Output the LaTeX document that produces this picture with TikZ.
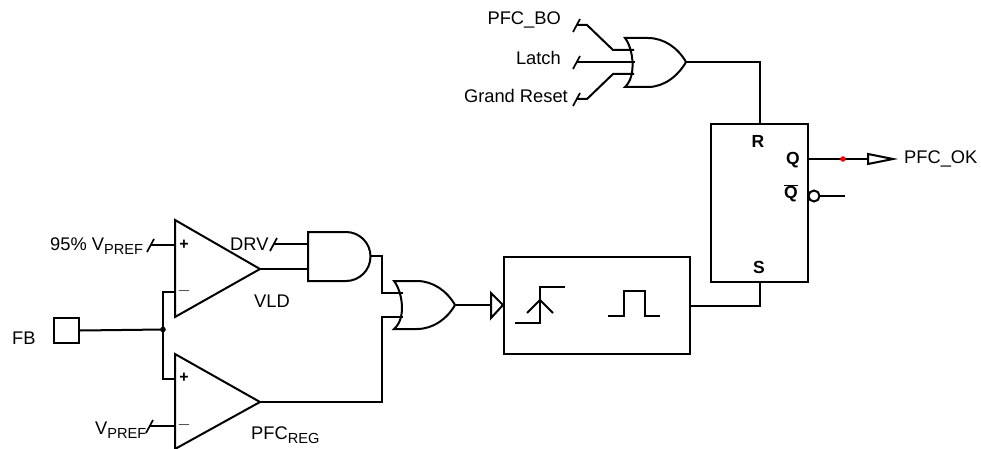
\documentclass[tikz,border=0pt]{standalone}
\usepackage{fontspec}
\setmainfont{Liberation Sans}
\usepackage{tikz}
\usetikzlibrary{
  positioning,
  calc
}
\newcommand{\lowtext}[1]{\raisebox{-0.26em}{\fontsize{14.6}{16}\selectfont #1}}
\tikzset{
  wire/.style={line width=2pt,line join=miter},
  gate/.style={wire,fill=white},
  tick/.style={line width=1.7pt},
  sig/.style={inner sep=0pt,font=\fontsize{18.3}{21}\selectfont},
  pin/.style={inner sep=0pt,font=\fontsize{17.5}{19}\selectfont\bfseries},
  sign/.style={inner sep=0pt,font=\fontsize{16}{18}\selectfont\bfseries},
  block/.style={draw,line width=2pt,rectangle,inner sep=0pt,anchor=north west}
}

\begin{document}
\begin{tikzpicture}[x=1pt,y=-1pt]
    \useasboundingbox (0,0) rectangle (981,449);

    % Blocks
    \node[block,minimum width=97pt,minimum height=158pt] (latch) at (710,123) {};
    \node[block,minimum width=186pt,minimum height=97pt] (oneshot) at (503,256) {};
    \node[block,minimum width=25pt,minimum height=25pt] (fb) at (53,317) {};

    % Gates
    \draw[gate] (625,38) .. controls (633,48) and (637,76) .. (625,87) -- (648,87) .. controls (664,87) and (678,76) .. (686,62) .. controls (678,48) and (664,38) .. (648,38) -- cycle;
    \draw[gate] (394,281) .. controls (402,291) and (407,318) .. (394,329) -- (417,329) .. controls (433,329) and (447,319) .. (455,305) .. controls (447,291) and (433,281) .. (417,281) -- cycle;
    \draw[gate] (308,232) -- (346,232) arc[start angle=90,end angle=-90,radius=24.5pt] -- (308,281) -- cycle;
    \draw[gate] (175,220) -- (260,269) -- (175,317) -- cycle;
    \draw[gate] (175,354) -- (260,402) -- (175,449) -- cycle;

    % Ports
    \foreach \name/\pos in {boa/{613,50},lat/{635,62},gra/{613,74},orout/{686,62},ora/{403,293},orb/{403,317},oroutb/{455,305},
        anda/{308,244},andb/{308,269},andout/{370,256},cpa/{175,245},cma/{175,292},cpb/{175,379},cmb/{175,426},outa/{260,269},outb/{260,402},
        tri/{491,305},qn/{820,196},qnend/{845,196},hd/{868,159},
        tbo/{576,25},tla/{576,62},tgr/{576,99},tpre/{150,245},tdrv/{273,244},tvp/{149,426}}
        \coordinate (\name) at (\pos);
    \coordinate (junc) at (163,329.5);

    % Wires
    \draw[wire] (tbo) -- (587,25) -- (613,50) -- (boa) -- (634,50);
    \draw[wire] (tla) -- (lat);
    \draw[wire] (tgr) -- (587,99) -- (613,74) -- (634,74);
    \draw[wire] (orout) -| (latch.north);
    \draw[wire] (tpre) -- (cpa);
    \draw[wire] (tdrv) -- (anda);
    \draw[wire] (outa) -- (andb);
    \draw[wire] (tvp) -- (cmb);
    \draw[wire] (fb.east) -- (junc);
    \draw[wire] (cma) -| (junc) |- (cpb);
    \draw[wire] (andout) -| (382,293) -- (ora);
    \draw[wire] (outb) -| (382,317) -- (orb);
    \draw[wire] (oroutb) -- (tri);
    \draw[wire] (oneshot.east) -| (latch.south);
    \draw[wire] (807,159) -- (hd);
    \draw[wire] (qn) -- (qnend);
    \draw[gate] (491,293) -- (503,305) -- (491,318) -- cycle;
    \draw[gate] (868,154) -- (893,159) -- (868,164) -- cycle;
    \draw[gate] (814,196) circle[radius=5.5pt];
    \fill (junc) circle[radius=2.8pt];
    \fill[red] (843,159) circle[radius=2.8pt];

    % Bus ticks
    \foreach \t in {tbo,tla,tgr,tpre,tdrv,tvp}
        \draw[tick] ($(\t)+(-3,7)$) -- ($(\t)+(4,-6)$);

    % Symbols in the one-shot
    \draw[wire] (515,323) -- (540,323) -- (540,287) -- (565,287);
    \draw[wire] (527,313) -- (540,300) -- (553,313);
    \draw[wire] (608,316) -- (624,316) -- (624,291) -- (645,291) -- (645,316) -- (660,316);

    % Labels
    \node[sig,anchor=east] (lbo) at (561,20) {PFC\_BO};
    \node[sig,anchor=east] (lla) at (561,58) {Latch};
    \node[sig,anchor=east] (lgr) at (568,96) {Grand Reset};
    \node[sig,anchor=west] (lok) at (904,159) {PFC\_OK};
    \node[sig,anchor=base west] (lpre) at (50,250) {95\% V\lowtext{PREF}};
    \node[sig,anchor=base west] (ldrv) at (230,250) {DRV};
    \node[sig,anchor=base west] (lvld) at (254,307) {VLD};
    \node[sig,anchor=base west] (lfb) at (12,344) {FB};
    \node[sig,anchor=base west] (lvp) at (95,434) {V\lowtext{PREF}};
    \node[sig,anchor=base west] (lreg) at (251,439) {PFC\lowtext{REG}};
    \node[pin] (pr) at (758,141) {R};
    \node[pin] (pq) at (793,160) {Q};
    \node[pin] (pqn) at (791,193) {$\overline{\mbox{\bfseries Q}}$};
    \node[pin] (ps) at (759,267) {S};
    \foreach \name/\x/\y/\txt in {sa/184/245/+,sb/184/291/$-$,sc/184/378/+,sd/184/425/$-$}
        \node[sign] (\name) at (\x,\y) {\txt};
\end{tikzpicture}
\end{document}
